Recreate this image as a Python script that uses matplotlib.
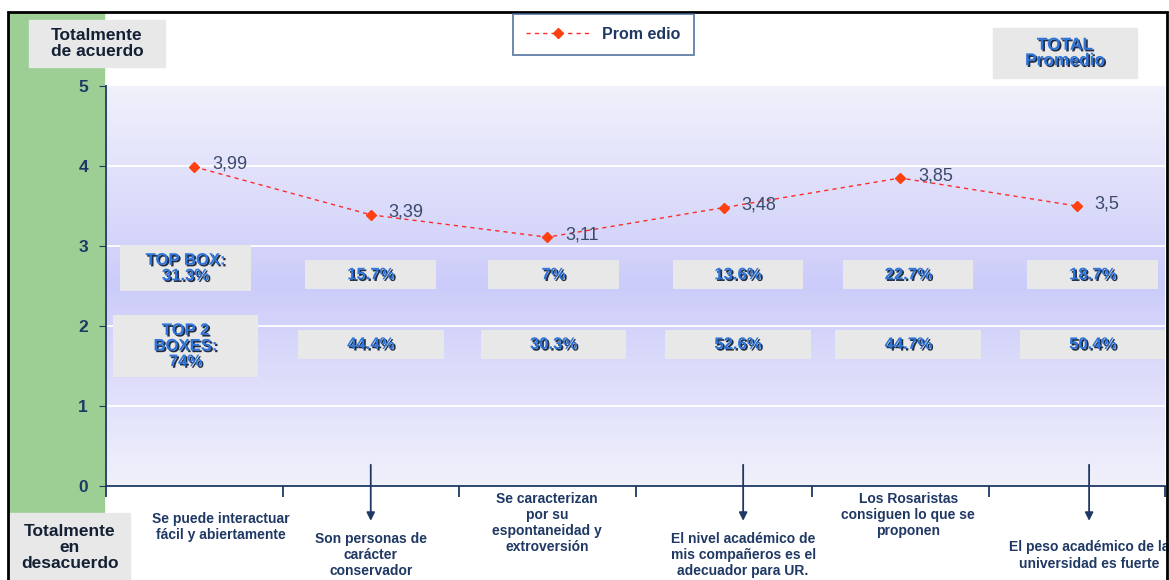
import matplotlib
matplotlib.use("Agg")
import matplotlib.pyplot as plt
import matplotlib.patheffects as pe
from matplotlib.patches import Rectangle
import numpy as np

categories = [
    "Se puede interactuar\nfácil y abiertamente",
    "Son personas de\ncarácter\nconservador",
    "Se caracterizan\npor su\nespontaneidad y\nextroversión",
    "El nivel académico de\nmis compañeros es el\nadecuador para UR.",
    "Los Rosaristas\nconsiguen lo que se\nproponen",
    "El peso académico de la\nuniversidad es fuerte",
]
promedio = [3.99, 3.39, 3.11, 3.48, 3.85, 3.5]
top_box = [31.3, 15.7, 7, 13.6, 22.7, 18.7]
top2_boxes = [74, 44.4, 30.3, 52.6, 44.7, 50.4]

plt.rcParams["font.family"] = ["Liberation Sans", "DejaVu Sans"]

NAVY = "#1f3864"
BLUE = "#2f74d8"
GRAY = "#e8e8e8"
shadow = [pe.withSimplePatchShadow(offset=(1.2, -1.2), shadow_rgbFace="#0c1a33", alpha=0.9)]

fig = plt.figure(figsize=(11.69, 5.80), dpi=100)
W, H = 1169, 580


def fx(px):
    return px / W


def fy(py):
    return 1 - py / H


# outer frame + green band (green behind the axes so tick labels stay visible)
fig.patches.append(Rectangle((fx(9), fy(512)), fx(104) - fx(9), fy(13) - fy(512),
                             transform=fig.transFigure, color="#9dcf95", zorder=-1))
fig.patches.append(Rectangle((fx(8), fy(582)), fx(1167) - fx(8), fy(12) - fy(582),
                             transform=fig.transFigure, fill=False, ec="black", lw=2, zorder=5))

ax = fig.add_axes([fx(106), fy(486), fx(1165) - fx(106), fy(86) - fy(486)])
ax.patch.set_alpha(0)
n = len(categories)
x = np.arange(n)
ax.set_xlim(-0.5, n - 0.5)
ax.set_ylim(0, 5)

# background gradient
yy = np.linspace(0, 5, 200)
shade = np.interp(yy, [0, 2.5, 5], [0.0, 1.0, 0.0])
top_c = np.array([241, 241, 252]) / 255
mid_c = np.array([204, 204, 250]) / 255
grad = top_c[None, :] * (1 - shade[:, None]) + mid_c[None, :] * shade[:, None]
ax.imshow(grad[:, None, :], extent=[-0.5, n - 0.5, 0, 5], origin="lower",
          aspect="auto", zorder=0)
for g in [1, 2, 3, 4]:
    ax.axhline(g, color="white", lw=1.3, zorder=1)

for s in ["top", "right"]:
    ax.spines[s].set_visible(False)
for s in ["left", "bottom"]:
    ax.spines[s].set_color(NAVY)
    ax.spines[s].set_linewidth(1.3)
ax.set_yticks(range(6))
ax.set_yticklabels([str(v) for v in range(6)], fontsize=12.5, fontweight="bold", color=NAVY)
ax.tick_params(axis="y", colors=NAVY, length=5, pad=8)
ax.set_xticks(np.arange(-0.5, n, 1.0))
ax.set_xticklabels([])
ax.tick_params(axis="x", colors=NAVY, length=8, width=1.3, direction="out")

# line
ax.plot(x, promedio, ls=(0, (3, 3)), color="#ff2a2a", lw=1, marker="D", ms=5,
        mfc="#ff4010", mec="#ff4010", zorder=4, label="Prom edio")
for xi, v in zip(x, promedio):
    ax.text(xi + 0.1, v + 0.03, f"{v:g}".replace(".", ","), fontsize=13,
            color="#3b4a6b", va="center", ha="left", zorder=5)

# boxes
nudge = [-0.05, 0.0, 0.035, 0.08, 0.045, 0.09]
for i, (tb, t2) in enumerate(zip(top_box, top2_boxes)):
    cx = i + nudge[i]
    if i == 0:
        rows = [(2.725, 0.74, 0.575, f"TOP BOX:\n{tb:g}%"),
                (1.75, 0.825, 0.775, f"TOP 2\nBOXES:\n{t2:g}%")]
    else:
        rows = [(2.64, 0.74, 0.36, f"{tb:g}%"),
                (1.77, 0.825, 0.36, f"{t2:g}%")]
    for cy, bw, bh, label in rows:
        ax.add_patch(Rectangle((cx - bw / 2, cy - bh / 2), bw, bh, fc=GRAY, ec="none",
                               zorder=3, clip_on=False))
        ax.text(cx, cy, label, ha="center", va="center", fontsize=12, fontweight="bold",
                color=BLUE, linespacing=1.05, zorder=4, path_effects=shadow)

# category labels (alternating) with arrows
label_x = [0.15, 0.0, 0.0, 0.11, 0.045, 0.07]
label_y = [-0.32, -0.57, -0.07, -0.57, -0.07, -0.68]
for i, lab in enumerate(categories):
    cx = i + label_x[i]
    if i % 2 == 1:
        ax.annotate("", xy=(cx, -0.47), xytext=(cx, 0.3),
                    arrowprops=dict(arrowstyle="-|>", color=NAVY, lw=1.3,
                                    mutation_scale=12), annotation_clip=False, zorder=6)
    ax.text(cx, label_y[i], lab, ha="center", va="top", fontsize=10, fontweight="bold",
            color=NAVY, linespacing=1.2, clip_on=False)


# corner labels
def corner_box(x0, y0, x1, y1, text, color, effects=None):
    fig.patches.append(Rectangle((fx(x0), fy(y1)), fx(x1) - fx(x0), fy(y0) - fy(y1),
                                 transform=fig.transFigure, color=GRAY, zorder=1))
    fig.text(fx((x0 + x1) / 2), fy((y0 + y1) / 2), text, ha="center", va="center",
             fontsize=12.5, fontweight="bold", color=color, linespacing=1.05,
             path_effects=effects)


corner_box(29, 20, 165, 67, "Totalmente\nde acuerdo", "#142033")
corner_box(9, 513, 130, 582, "Totalmente\nen\ndesacuerdo", "#142033")
corner_box(993, 28, 1137, 78, "TOTAL\nPromedio", BLUE, shadow)

leg = fig.legend(loc="upper left", bbox_to_anchor=(fx(513), fy(14)), frameon=True,
                 fancybox=False, handlelength=4.0, borderpad=0.8, borderaxespad=0,
                 prop=dict(weight="bold", size=11.5))
leg.get_frame().set_edgecolor("#3a5f8f")
leg.get_frame().set_linewidth(1.3)
for t in leg.get_texts():
    t.set_color(NAVY)

fig.savefig("out.png", dpi=100)
